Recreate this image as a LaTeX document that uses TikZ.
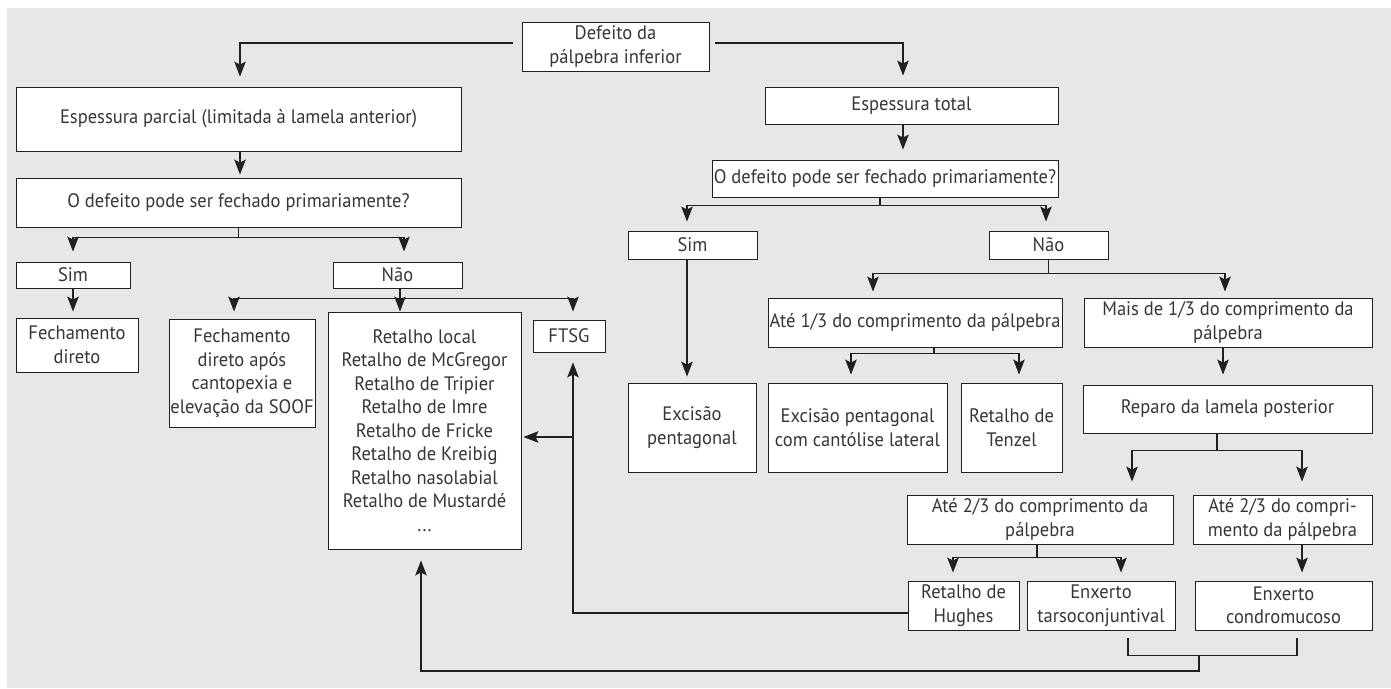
\documentclass[tikz,border=0pt]{standalone}
\usepackage{fontspec}
\setmainfont{PT Sans}[FakeStretch=0.95]
\usetikzlibrary{arrows.meta,calc}
\definecolor{bggray}{HTML}{E6E7E8}
\definecolor{ink}{HTML}{231F20}

\begin{document}
\begin{tikzpicture}[x=1pt,y=-1pt,
    box/.style={draw=ink,fill=white,line width=0.9pt,align=center,inner sep=1pt,
      font=\fontsize{19.5}{23.5}\selectfont,text=ink!90},
    ln/.style={draw=ink,line width=1.2pt},
    arr/.style={ln,-{Stealth[length=15pt,width=11.5pt,inset=3pt]}}]
    \useasboundingbox (0,0) rectangle (1391,688);
    \fill[bggray] (7,8) rectangle (1391,688);

    % top and left column
    \node[box,minimum width=187pt,minimum height=49pt] (top) at (615.5,46.5) {Defeito da\\pálpebra inferior};
    \node[box,minimum width=445pt,minimum height=64pt] (parc) at (238.5,119) {Espessura parcial (limitada à lamela anterior)};
    \node[box,minimum width=445pt,minimum height=49pt] (qL) at (238.5,202.5) {O defeito pode ser fechado primariamente?};
    \node[box,minimum width=114pt,minimum height=26pt] (simL) at (73,275) {Sim};
    \node[box,minimum width=129pt,minimum height=26pt] (naoL) at (397.5,275) {Não};
    \node[box,minimum width=122pt,minimum height=54pt] (fechL) at (77,345) {Fechamento\\direto};
    \node[box,minimum width=146pt,minimum height=108pt] (fechApos) at (242,373) {Fechamento\\direto após\\cantopexia e\\elevação da SOOF};
    \node[box,minimum width=193pt,minimum height=237pt] (retalhos) at (424.5,430.5) {Retalho local\\Retalho de McGregor\\Retalho de Tripier\\Retalho de Imre\\Retalho de Fricke\\Retalho de Kreibig\\Retalho nasolabial\\Retalho de Mustardé\\...};
    \node[box,minimum width=72pt,minimum height=32pt] (ftsg) at (569,336) {FTSG};

    % right column
    \node[box,minimum width=293pt,minimum height=37pt] (total) at (911.5,105.5) {Espessura total};
    \node[box,minimum width=346pt,minimum height=37pt] (qR) at (885,178.5) {O defeito pode ser fechado primariamente?};
    \node[box,minimum width=129pt,minimum height=28pt] (simR) at (692.5,245) {Sim};
    \node[box,minimum width=119pt,minimum height=28pt] (naoR) at (1048.5,245) {Não};
    \node[box,minimum width=128pt,minimum height=89pt] (excisao) at (692,427.5) {Excisão\\pentagonal};
    \node[box,minimum width=294pt,minimum height=49pt] (ate13) at (915,322.5) {Até 1/3 do comprimento da pálpebra};
    \node[box,minimum width=288pt,minimum height=49pt] (mais13) at (1228,322.5) {Mais de 1/3 do comprimento da\\pálpebra};
    \node[box,minimum width=179pt,minimum height=89pt] (pentaLat) at (857.5,427.5) {Excisão pentagonal\\com cantólise lateral};
    \node[box,minimum width=101pt,minimum height=89pt] (tenzel) at (1011.5,427.5) {Retalho de\\Tenzel};
    \node[box,minimum width=289pt,minimum height=48pt] (reparo) at (1227.5,409) {Reparo da lamela posterior};
    \node[box,minimum width=266pt,minimum height=49pt] (ate23a) at (1040,519.5) {Até 2/3 do comprimento da\\pálpebra};
    \node[box,minimum width=179pt,minimum height=49pt] (ate23b) at (1282.5,519.5) {Até 2/3 do compri-\\mento da pálpebra};
    \node[box,minimum width=111pt,minimum height=49pt] (hughes) at (963.5,605.5) {Retalho de\\Hughes};
    \node[box,minimum width=148pt,minimum height=49pt] (tarso) at (1101,605.5) {Enxerto\\tarsoconjuntival};
    \node[box,minimum width=177pt,minimum height=49pt] (condro) at (1283.5,605.5) {Enxerto\\condromucoso};

    \coordinate (up) at ([xshift=4pt]ftsg.south);
    \coordinate (tR) at ([xshift=-8.5pt]total.south);
    \coordinate (brk) at (1199,655);

    % from the top
    \draw[arr,shorten >=10pt] ([xshift=-9pt,yshift=3.5pt]top.west) -| ([xshift=1.5pt]parc.north);
    \draw[arr,shorten >=11pt] ([xshift=6pt,yshift=3.5pt]top.east) -| (tR |- total.north);

    % left branch
    \draw[arr,shorten >=3pt] ([xshift=1.5pt]parc.south) -- ([xshift=1.5pt]qL.north);
    \draw[ln] (qL.south) -- ++(0,10) coordinate (jqL);
    \draw[arr,shorten >=10pt] (jqL) -| (simL.north);
    \draw[arr,shorten >=10pt] (jqL) -| ([xshift=6.5pt]naoL.north);
    \draw[arr,shorten >=6pt] (simL.south) -- ([xshift=-4pt]fechL.north);
    \draw[ln] ([xshift=2.5pt]naoL.south) -- ++(0,10) coordinate (jnL);
    \draw[arr,shorten >=7pt] (jnL) -| ([xshift=-8pt]fechApos.north);
    \draw[arr] (jnL) -- (jnL |- retalhos.north);
    \draw[arr,shorten >=8pt] (jnL) -| ([xshift=4pt]ftsg.north);

    % back to the left
    \draw[arr,shorten >=10pt] ([yshift=-7.5pt]hughes.west) -| (up);
    \draw[arr,shorten >=2pt] ($(retalhos.east -| up)+(0,6.5)$) -- ($(retalhos.east)+(0,6.5)$);
    \draw[ln] ([xshift=27pt,yshift=-8pt]tarso.south) -- ++(0,17) -| ([xshift=13.5pt,yshift=-8pt]condro.south);
    \draw[arr,shorten >=11pt] (brk) -- ++(0,16) -| ([xshift=-3.5pt]retalhos.south);

    % right branch
    \draw[arr,shorten >=10pt] (tR) -- (tR |- qR.north);
    \draw[ln] ([xshift=-5pt]qR.south) -- ++(0,8) coordinate (jqR);
    \draw[arr,shorten >=9pt] (jqR) -| ([xshift=-5.5pt]simR.north);
    \draw[arr,shorten >=9pt] (jqR) -| ([xshift=-2.5pt]naoR.north);
    \draw[arr,shorten >=6pt] ([xshift=-5.5pt]simR.south) -- ([xshift=-5pt]excisao.north);
    \draw[ln] (naoR.south) -- ++(0,14) coordinate (jnR);
    \draw[arr,shorten >=6pt] (jnR) -| ([xshift=-42pt]ate13.north);
    \draw[arr,shorten >=6pt] (jnR) -| ([xshift=-3pt]mais13.north);
    \draw[ln] ([xshift=19pt]ate13.south) -- ++(0,6) coordinate (ja13);
    \draw[arr,shorten >=8pt] (ja13) -| ([xshift=-6.5pt]pentaLat.north);
    \draw[arr,shorten >=8pt] (ja13) -| ([xshift=7.5pt]tenzel.north);
    \draw[arr,shorten >=10pt] ([xshift=-5pt]mais13.south) -- ([xshift=-4.5pt]reparo.north);
    \draw[ln] ([xshift=-10.5pt]reparo.south) -- ++(0,17) coordinate (jrp);
    \draw[arr,shorten >=13pt] (jrp) -| ([xshift=92pt]ate23a.north);
    \draw[arr,shorten >=13pt] (jrp) -| ([xshift=19.5pt]ate23b.north);
    \draw[ln] ([xshift=-3pt]ate23a.south) -- ++(0,13) coordinate (ja23);
    \draw[arr,shorten >=8pt] (ja23) -| ([xshift=-10.5pt]hughes.north);
    \draw[arr,shorten >=8pt] (ja23) -| ([xshift=20pt]tarso.north);
    \draw[arr,shorten >=8pt] ([xshift=19.5pt]ate23b.south) -- ([xshift=18.5pt]condro.north);
\end{tikzpicture}
\end{document}
